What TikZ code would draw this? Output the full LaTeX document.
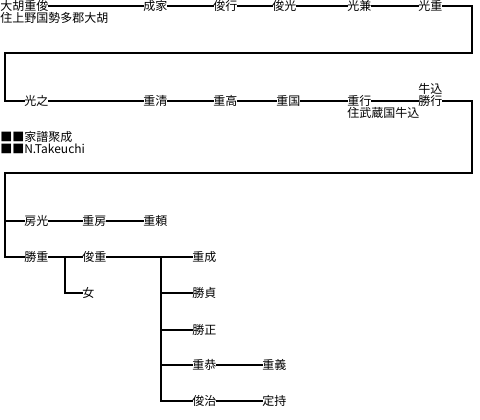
\documentclass[tikz,border=0pt]{standalone}
\usepackage{fontspec}
\setmainfont{Noto Sans CJK JP}
\begin{document}
\begin{tikzpicture}[x=0.75pt,y=-0.75pt,
  nm/.style={anchor=west,inner sep=0pt,font=\fontsize{9pt}{10pt}\selectfont},
  nt/.style={anchor=west,inner sep=0pt,font=\fontsize{9pt}{10pt}\selectfont},
  ln/.style={line width=1.5pt,line cap=rect}]
\useasboundingbox (0,0) rectangle (480,420);
% row 1
\node[nm] (a1) at (0,6) {大胡重俊};
\node[nt] (a1n) at (0,18) {住上野国勢多郡大胡};
\node[nm] (a2) at (143,6) {成家};
\node[nm] (a3) at (213,6) {俊行};
\node[nm] (a4) at (272,6) {俊光};
\node[nm] (a5) at (347,6) {光兼};
\node[nm] (a6) at (418,6) {光重};
\coordinate (r1) at (472,53);
\coordinate (l1) at (5,53);
% row 2
\node[nm] (b1) at (24,101) {光之};
\node[nm] (b2) at (143,101) {重清};
\node[nm] (b3) at (213,101) {重高};
\node[nm] (b4) at (276,101) {重国};
\node[nm] (b5) at (347,101) {重行};
\node[nt] (b5n) at (347,113) {住武蔵国牛込};
\node[nm] (b6) at (418,101) {勝行};
\node[nt] (b6n) at (418,89) {牛込};
\coordinate (r2) at (472,173);
\coordinate (l2) at (5,173);
% notes
\node[nt] (c1) at (0,137) {■■家譜聚成};
\node[nt] (c2) at (0,149) {■■N.Takeuchi};
% row 4
\node[nm] (d1) at (24,221) {房光};
\node[nm] (d2) at (82,221) {重房};
\node[nm] (d3) at (143,221) {重頼};
% row 5
\node[nm] (e1) at (24,257) {勝重};
\node[nm] (e2) at (82,257) {俊重};
\node[nm] (e3) at (82,293) {女};
\coordinate (j1) at (65,257);
\coordinate (j2) at (161,257);
\node[nm] (f1) at (192,257) {重成};
\node[nm] (f2) at (192,293) {勝貞};
\node[nm] (f3) at (192,330) {勝正};
\node[nm] (f4) at (192,365) {重恭};
\node[nm] (f5) at (192,401) {俊治};
\node[nm] (g4) at (262,365) {重義};
\node[nm] (g5) at (262,401) {定持};
% connectors
\draw[ln] (a1.east) -- (a2.west);
\draw[ln] (a2.east) -- (a3.west);
\draw[ln] (a3.east) -- (a4.west);
\draw[ln] (a4.east) -- (a5.west);
\draw[ln] (a5.east) -- (a6.west);
\draw[ln] (a6.east) -| (r1) -- (l1) |- (b1.west);
\draw[ln] (b1.east) -- (b2.west);
\draw[ln] (b2.east) -- (b3.west);
\draw[ln] (b3.east) -- (b4.west);
\draw[ln] (b4.east) -- (b5.west);
\draw[ln] (b5.east) -- (b6.west);
\draw[ln] (b6.east) -| (r2) -- (l2) |- (e1.west);
\draw[ln] (l2) |- (d1.west);
\draw[ln] (d1.east) -- (d2.west);
\draw[ln] (d2.east) -- (d3.west);
\draw[ln] (e1.east) -- (e2.west);
\draw[ln] (j1) |- (e3.west);
\draw[ln] (e2.east) -- (f1.west);
\draw[ln] (j2) |- (f2.west);
\draw[ln] (j2) |- (f3.west);
\draw[ln] (j2) |- (f4.west);
\draw[ln] (j2) |- (f5.west);
\draw[ln] (f4.east) -- (g4.west);
\draw[ln] (f5.east) -- (g5.west);
\end{tikzpicture}
\end{document}
